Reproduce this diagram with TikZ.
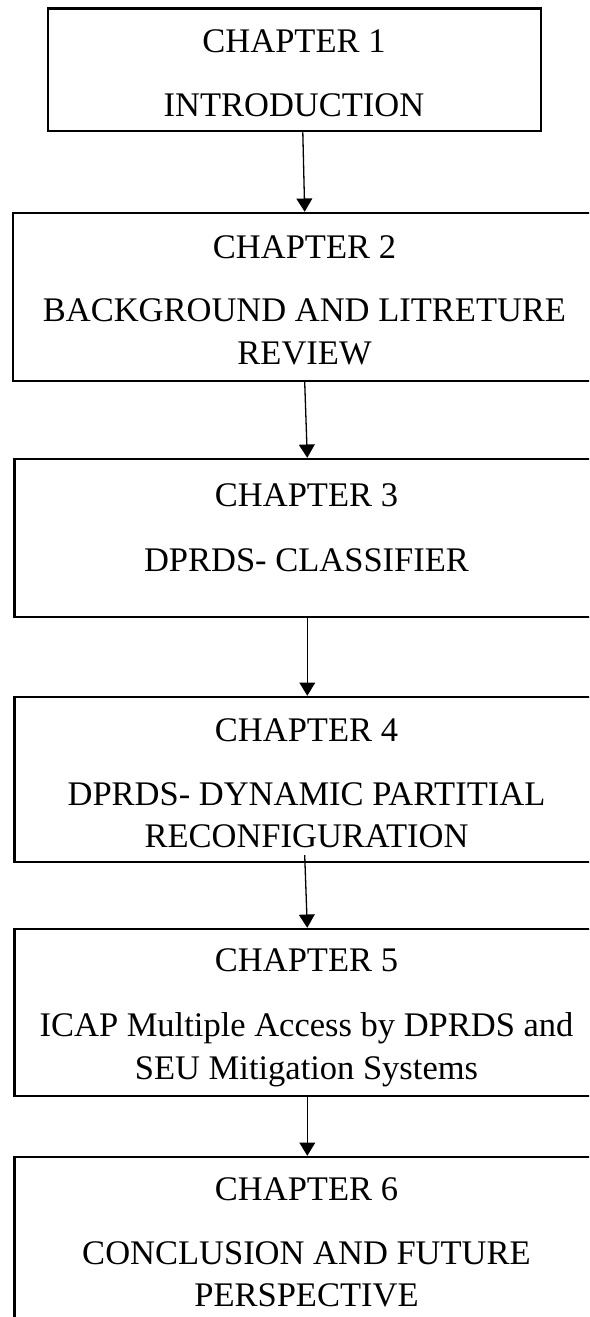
\documentclass[tikz,border=0pt]{standalone}
\usepackage{fontspec}
\setmainfont{Liberation Serif}
\usetikzlibrary{arrows.meta}
\begin{document}
\begin{tikzpicture}[x=1pt,y=-1pt,
  chapbox/.style={draw=black,line width=2.4pt,rectangle,inner sep=0pt},
  txt/.style={anchor=base,inner sep=0pt,font=\fontsize{34.5}{42.5}\selectfont},
  flow/.style={draw=black,line width=1.3pt,-{Triangle[width=15.8pt,length=13.3pt]}}]
\clip (0,0) rectangle (589,1317);
\useasboundingbox (0,0) rectangle (589,1317);

% chapter boxes
\node[chapbox,minimum width=493pt,minimum height=122.7pt] (b1) at (294.5,69.7) {};
\node[chapbox,minimum width=583.2pt,minimum height=168pt] (b2) at (304.4,297) {};
\node[chapbox,minimum width=585.7pt,minimum height=158pt] (b3) at (307.15,538) {};
\node[chapbox,minimum width=585.7pt,minimum height=165pt] (b4) at (307.15,779.5) {};
\node[chapbox,minimum width=585.7pt,minimum height=167pt] (b5) at (307.15,1012.5) {};
\node[chapbox,minimum width=585.7pt,minimum height=173pt] (b6) at (307.15,1243.5) {};

% texts
\node[txt] (t1a) at (294,52.3) {CHAPTER 1};
\node[txt] (t1b) at (294,116.7) {INTRODUCTION};

\node[txt] (t2a) at (304.5,258.3) {CHAPTER 2};
\node[txt] (t2b) at (304.5,321.7) {BACKGROUND AND LITRETURE};
\node[txt] (t2c) at (304.5,364.3) {REVIEW};

\node[txt] (t3a) at (306.5,506) {CHAPTER 3};
\node[txt] (t3b) at (306.5,571) {DPRDS- CLASSIFIER};

\node[txt] (t4a) at (306.5,741.7) {CHAPTER 4};
\node[txt] (t4b) at (306.5,805.7) {DPRDS- DYNAMIC PARTITIAL};
\node[txt] (t4c) at (306.5,847.7) {RECONFIGURATION};

\node[txt] (t5a) at (306.5,971.7) {CHAPTER 5};
\node[txt] (t5b) at (306.5,1036.7) {ICAP Multiple Access by DPRDS and};
\node[txt] (t5c) at (306.5,1079.3) {SEU Mitigation Systems};

\node[txt] (t6a) at (306.5,1200) {CHAPTER 6};
\node[txt] (t6b) at (306.5,1264.3) {CONCLUSION AND FUTURE};
\node[txt] (t6c) at (306.5,1306.7) {PERSPECTIVE};

% connectors
\draw[flow] ([xshift=8.3pt]b1.south) -- ([xshift=0.3pt]b2.north);
\draw[flow] ([xshift=0.3pt]b2.south) -- ([xshift=0.15pt]b3.north);
\draw[flow] ([xshift=0.15pt]b3.south) -- ([xshift=0.15pt]b4.north);
\draw[flow] ([xshift=-2.45pt,yshift=8pt]b4.south) -- ([xshift=0.15pt]b5.north);
\draw[flow] ([xshift=0.15pt]b5.south) -- ([xshift=0.15pt]b6.north);
\end{tikzpicture}
\end{document}
